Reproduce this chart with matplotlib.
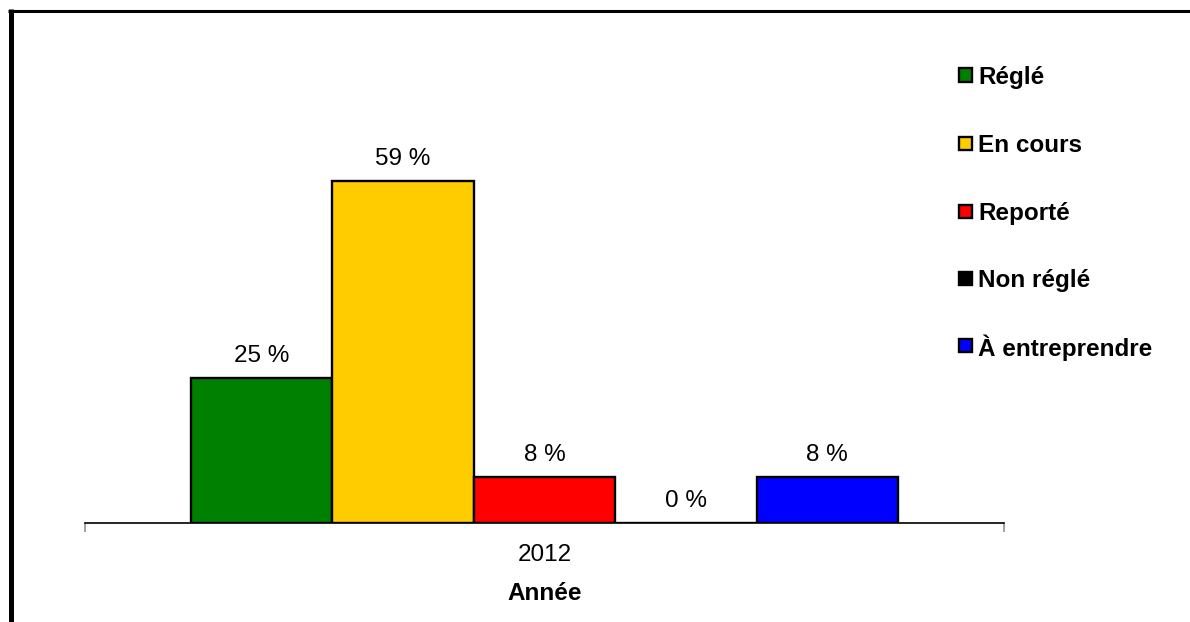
import matplotlib
matplotlib.use("Agg")
import matplotlib.pyplot as plt
from matplotlib.patches import Rectangle
from matplotlib.lines import Line2D

plt.rcParams["font.family"] = ["Liberation Sans", "DejaVu Sans"]

# Data
statuses = ["Réglé", "En cours", "Reporté", "Non réglé", "À entreprendre"]
percentages = [25, 59, 8, 0, 8]
colors = ["#008000", "#FFCC00", "#FF0000", "#000000", "#0000FF"]
year_labels = ["2012"]
x_title = "Année"

DPI = 100
W, H = 1190, 622
fig = plt.figure(figsize=(W / DPI, H / DPI), dpi=DPI)

# Plot area in pixel terms
left_px, right_px, base_px = 85, 1004, 523
ymax = 70
px_per_unit = 342 / 59
top_px = base_px - ymax * px_per_unit
ax = fig.add_axes([left_px / W, 1 - base_px / H,
                   (right_px - left_px) / W, (base_px - top_px) / H])

n = len(statuses)
bar_w = 1.0 / (n + 1.5)
start = -n * bar_w / 2 + bar_w / 2
for i, (val, col) in enumerate(zip(percentages, colors)):
    xc = start + i * bar_w
    ax.bar(xc, val, width=bar_w, color=col, edgecolor="black",
           linewidth=1.7, zorder=3)
    ax.annotate(f"{val} %", xy=(xc, val), xytext=(0, 11.5),
                textcoords="offset points", ha="center", va="baseline",
                fontsize=17.5, color="black")

ax.set_xlim(-0.5, 0.5)
ax.set_ylim(0, ymax)
for s in ["top", "right", "left"]:
    ax.spines[s].set_visible(False)
ax.spines["bottom"].set_linewidth(1.2)
ax.spines["bottom"].set_color("black")
ax.set_yticks([])
ax.set_xticks([0])
ax.set_xticklabels(year_labels, fontsize=17.5)
ax.tick_params(axis="x", which="major", length=0, pad=15)
ax.set_xticks([-0.5, 0.5], minor=True)
ax.tick_params(axis="x", which="minor", length=6.5, width=1.2, color="#909090")
ax.set_xlabel(x_title, fontsize=17.5, fontweight="bold", labelpad=12)

# Legend drawn as swatches with labels on the right
leg_x_px = 959
leg_rows_px = [75, 143, 211, 278, 345]
sw = 13
for lab, col, yc in zip(statuses, colors, leg_rows_px):
    fig.add_artist(Rectangle(((leg_x_px) / W, 1 - (yc + sw / 2) / H),
                             sw / W, sw / H, transform=fig.transFigure,
                             facecolor=col, edgecolor="black", linewidth=1.7))
    fig.text((leg_x_px + sw + 6) / W, 1 - yc / H, lab, fontsize=17.5,
             fontweight="bold", ha="left", va="center_baseline")

# Frame lines along the left and top edges
fig.add_artist(Line2D([10.8 / W, 10.8 / W], [0, 1 - 9 / H],
                      transform=fig.transFigure, color="black",
                      linewidth=3.6, solid_capstyle="butt"))
fig.add_artist(Line2D([8.3 / W, 1], [1 - 10.5 / H, 1 - 10.5 / H],
                      transform=fig.transFigure, color="black",
                      linewidth=2.2, solid_capstyle="butt"))

fig.savefig("out.png", dpi=DPI, facecolor="white")
